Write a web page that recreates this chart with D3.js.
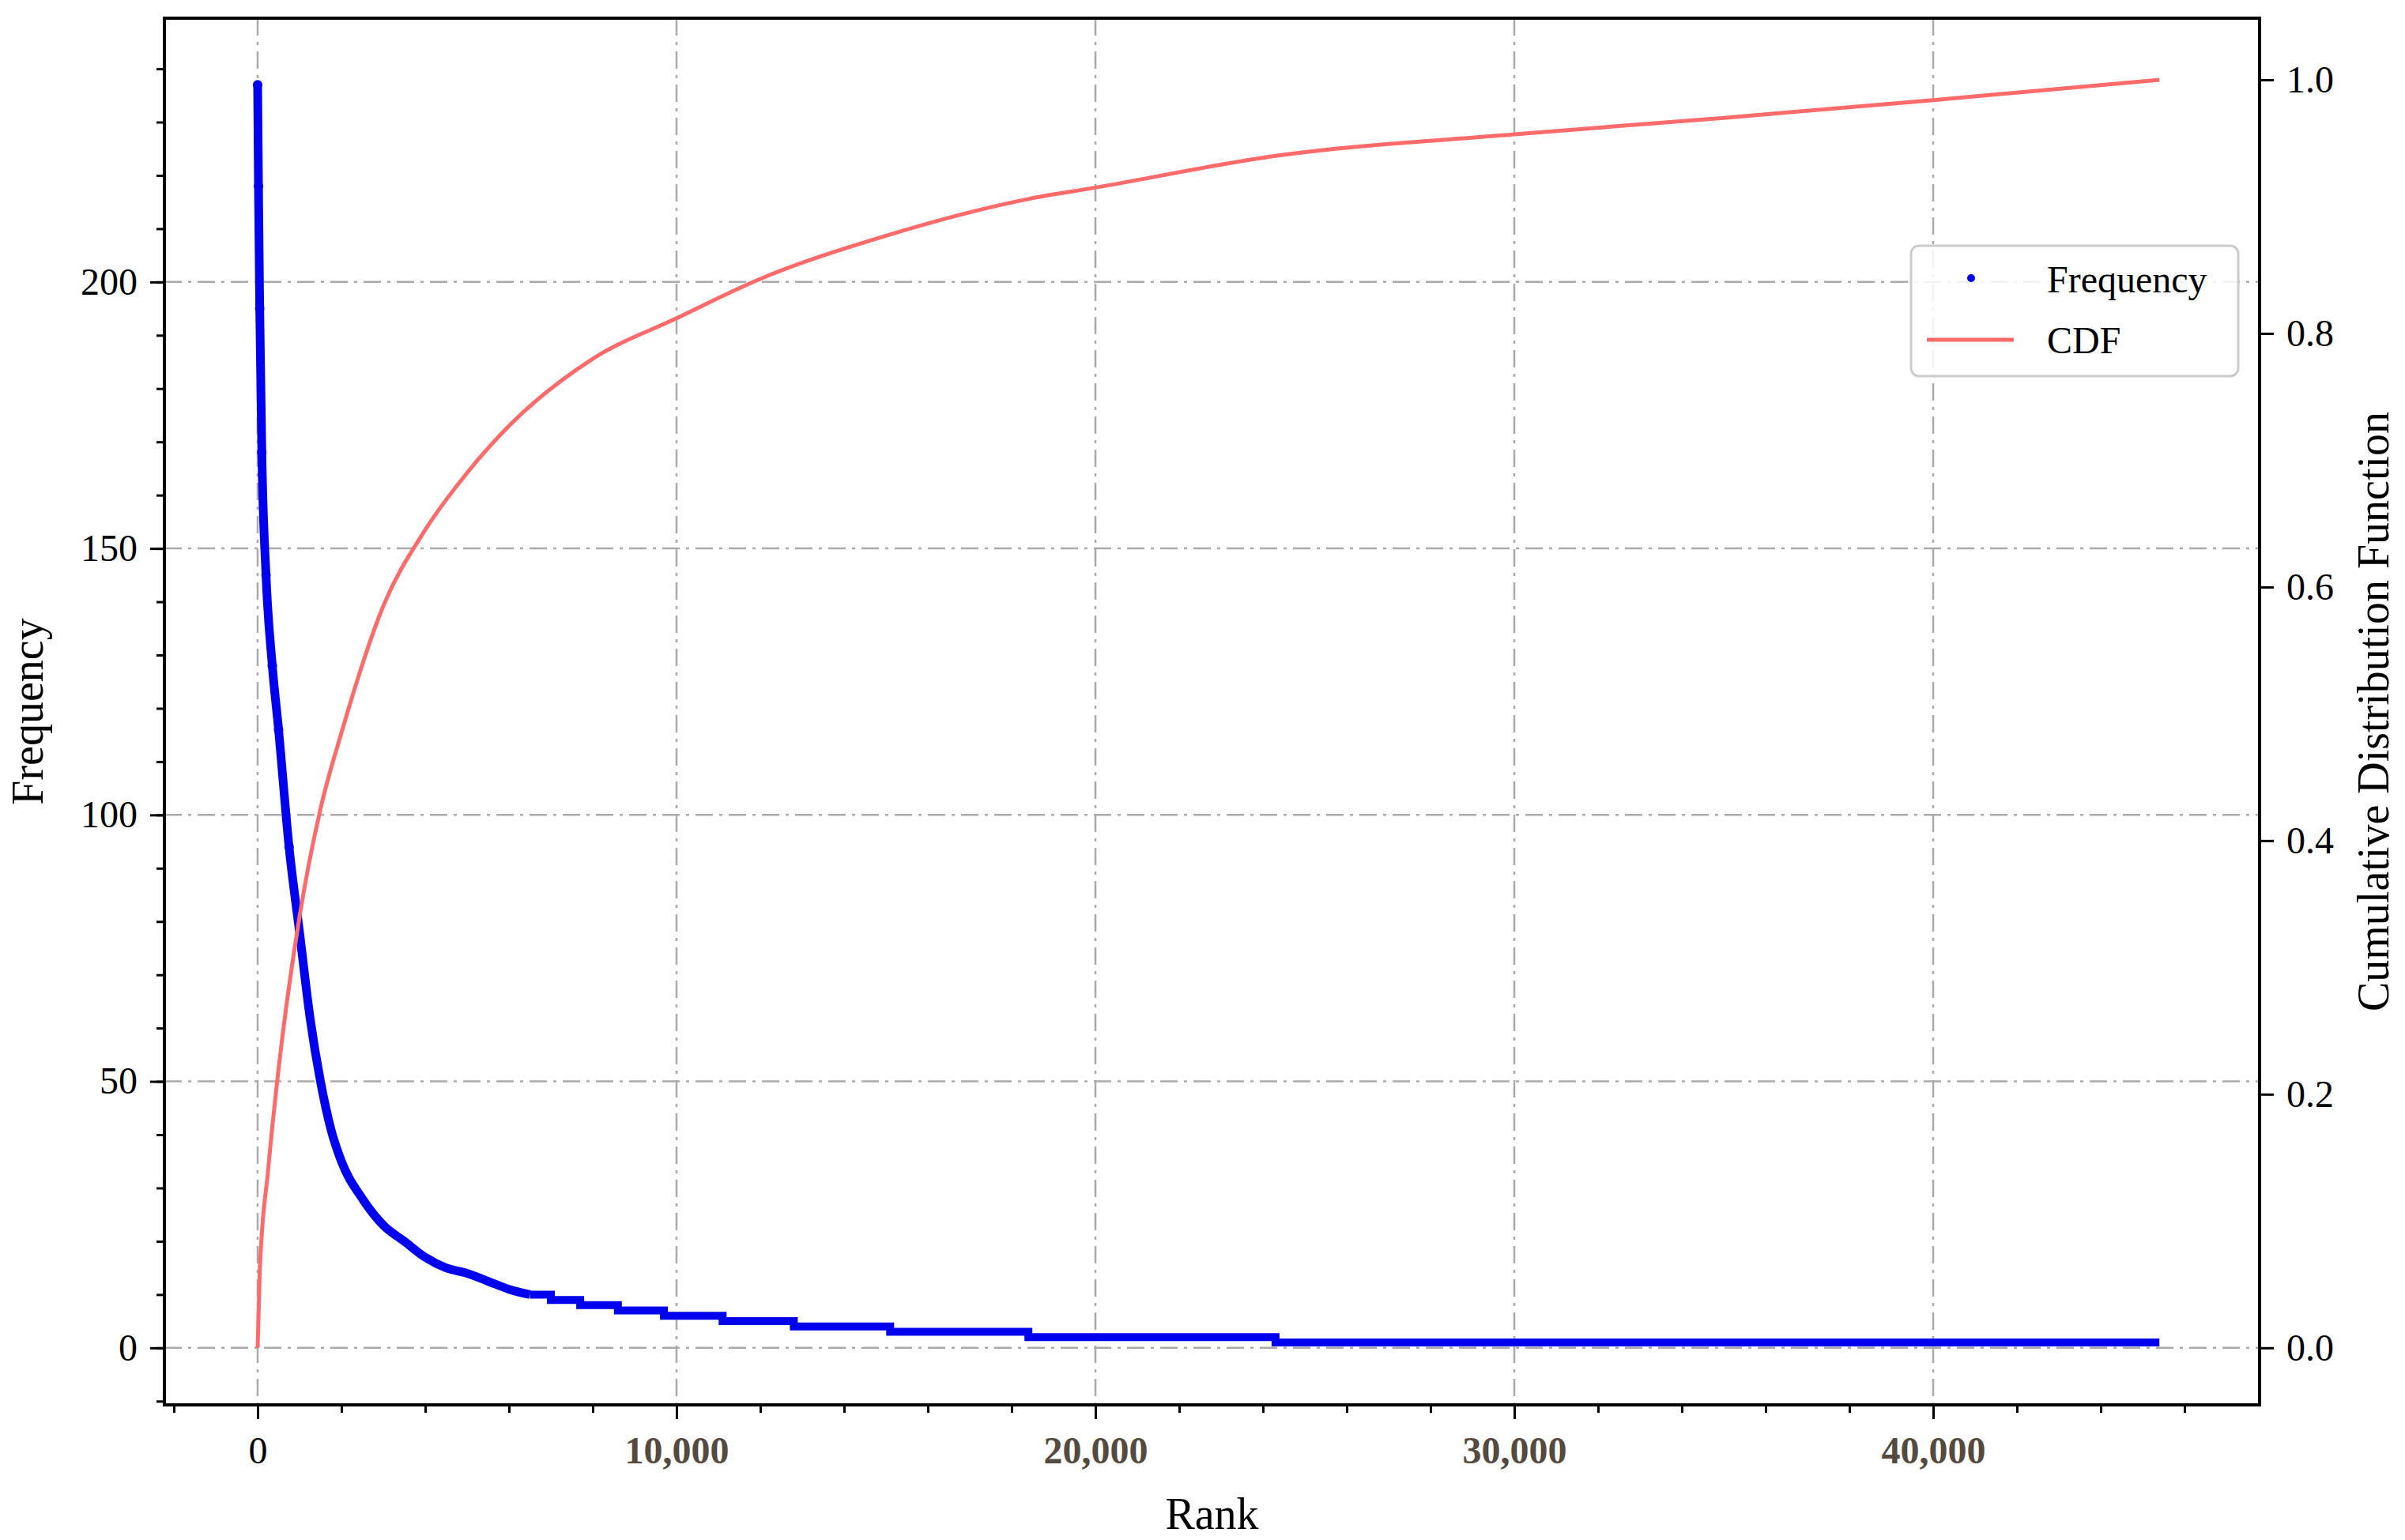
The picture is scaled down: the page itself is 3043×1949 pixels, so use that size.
<!DOCTYPE html>
<html><head><meta charset="utf-8">
<script src="https://cdn.jsdelivr.net/npm/d3@7"></script>
<style>body{margin:0;background:#fff}</style></head>
<body><svg id="c" width="3043" height="1949"></svg>
<script>
// Frequency curve head (rank, frequency)
const headRanks = [0, 20, 50, 100, 200, 350, 500, 750, 1000, 1250, 1500, 1750, 2000, 2500, 3000, 3500, 4000, 4500, 5000, 5500, 6000, 6500];
const headFreq  = [237, 218, 195, 168, 145, 128, 116, 94, 78, 62, 50, 41, 35, 28, 23, 20, 17, 15, 14, 12.5, 11, 10];
// Frequency tail steps: [start rank, end rank, frequency]
const stepStarts = [6500, 7000, 7700, 8600, 9700, 11100, 12800, 15100, 18400, 24300];
const stepEnds   = [7000, 7700, 8600, 9700, 11100, 12800, 15100, 18400, 24300, 45400];
const stepFreq   = [10, 9, 8, 7, 6, 5, 4, 3, 2, 1];
// CDF
const cdfRanks = [0, 50, 250, 500, 1000, 1500, 2000, 3000, 4000, 5000, 6000, 8000, 10000, 12000, 15000, 18400, 20000, 24300, 30000, 35000, 40000, 45400];
const cdfVals  = [0, 0.06, 0.14, 0.22, 0.34, 0.425, 0.485, 0.585, 0.645, 0.69, 0.727, 0.78, 0.812, 0.843, 0.877, 0.906, 0.915, 0.94, 0.957, 0.97, 0.984, 1.0];
const xTicks = [0, 10000, 20000, 30000, 40000];
const yTicks = [0, 50, 100, 150, 200];
const rTicks = [0, 0.2, 0.4, 0.6, 0.8, 1.0];

const L=208, R=2859, T=23, B=1778;
const svg=d3.select("#c");
const font="Liberation Serif, Times New Roman, serif";
const x=d3.scaleLinear().domain([-2226,47792]).range([L,R]);
const y=d3.scaleLinear().domain([-10.7,249.5]).range([B,T]);
const y2=d3.scaleLinear().domain([-0.045,1.0486]).range([B,T]);

// grid
const g=svg.append("g").attr("stroke","#aaa").attr("stroke-width",2.5).attr("stroke-dasharray","22,8,4,8");
xTicks.forEach(v=>g.append("line").attr("x1",x(v)).attr("x2",x(v)).attr("y1",T).attr("y2",B));
yTicks.forEach(v=>g.append("line").attr("y1",y(v)).attr("y2",y(v)).attr("x1",L).attr("x2",R));

// frequency
const blue="#0000ee";
const fl=d3.line().x(d=>x(d[0])).y(d=>y(d[1]));
const head=headRanks.map((r,i)=>[r,headFreq[i]]);
svg.append("path").attr("d",d3.line().x(d=>x(d[0])).y(d=>y(d[1])).curve(d3.curveMonotoneX)(head)).attr("fill","none").attr("stroke",blue).attr("stroke-width",11);
svg.append("g").selectAll("circle").data(head.slice(0,8)).join("circle")
  .attr("cx",d=>x(d[0])).attr("cy",d=>y(d[1])).attr("r",6).attr("fill",blue);
const steps=[];
stepStarts.forEach((s,i)=>{steps.push([s,stepFreq[i]]);steps.push([stepEnds[i],stepFreq[i]]);});
svg.append("path").attr("d",fl(steps)).attr("fill","none").attr("stroke",blue).attr("stroke-width",10);

// cdf
svg.append("path").attr("d",d3.line().x((d,i)=>x(cdfRanks[i])).y(d=>y2(d)).curve(d3.curveMonotoneX)(cdfVals))
  .attr("fill","none").attr("stroke","#ff6b6b").attr("stroke-width",5);

// frame
svg.append("rect").attr("x",L).attr("y",T).attr("width",R-L).attr("height",B-T).attr("fill","none").attr("stroke","#000").attr("stroke-width",4);

// axes
const fmt=d3.format(",");
const xa=svg.append("g").attr("transform",`translate(0,${B})`).call(d3.axisBottom(x).tickValues(xTicks).tickFormat(fmt).tickSize(18).tickPadding(22));
svg.append("g").attr("transform",`translate(0,${B})`).call(d3.axisBottom(x).tickValues(d3.range(-2000,47000,2000)).tickFormat("").tickSize(10));
xa.selectAll("text").attr("fill",d=>d===0?"#000":"#554a40").attr("font-weight",d=>d===0?"normal":"bold");
const ya=svg.append("g").attr("transform",`translate(${L},0)`).call(d3.axisLeft(y).tickValues(yTicks).tickSize(18).tickPadding(16));
svg.append("g").attr("transform",`translate(${L},0)`).call(d3.axisLeft(y).tickValues(d3.range(-10,250,10)).tickFormat("").tickSize(10));
const ra=svg.append("g").attr("transform",`translate(${R},0)`).call(d3.axisRight(y2).tickValues(rTicks).tickFormat(d3.format(".1f")).tickSize(18).tickPadding(16));
svg.selectAll(".domain").remove();
svg.selectAll(".tick line").attr("stroke","#000").attr("stroke-width",3);
svg.selectAll(".tick text").attr("font-family",font).attr("font-size",48);
ya.selectAll("text").attr("fill","#000");ra.selectAll("text").attr("fill","#000");

// titles
svg.append("text").attr("x",(L+R)/2).attr("y",1935).attr("text-anchor","middle").attr("font-family",font).attr("font-size",56).text("Rank");
svg.append("text").attr("transform",`translate(54,${(T+B)/2}) rotate(-90)`).attr("text-anchor","middle").attr("font-family",font).attr("font-size",56).text("Frequency");
svg.append("text").attr("transform",`translate(3022,${(T+B)/2}) rotate(-90)`).attr("text-anchor","middle").attr("font-family",font).attr("font-size",56).text("Cumulative Distribution Function");

// legend
const lg=svg.append("g");
lg.append("rect").attr("x",2418).attr("y",311).attr("width",414).attr("height",165).attr("rx",10).attr("fill","rgba(255,255,255,0.85)").attr("stroke","#ccc").attr("stroke-width",3);
lg.append("circle").attr("cx",2494).attr("cy",352).attr("r",5).attr("fill",blue);
lg.append("line").attr("x1",2438).attr("x2",2548).attr("y1",430).attr("y2",430).attr("stroke","#ff6b6b").attr("stroke-width",5);
lg.append("text").attr("x",2590).attr("y",370).attr("font-family",font).attr("font-size",48).text("Frequency");
lg.append("text").attr("x",2590).attr("y",447).attr("font-family",font).attr("font-size",48).text("CDF");
</script></body></html>
